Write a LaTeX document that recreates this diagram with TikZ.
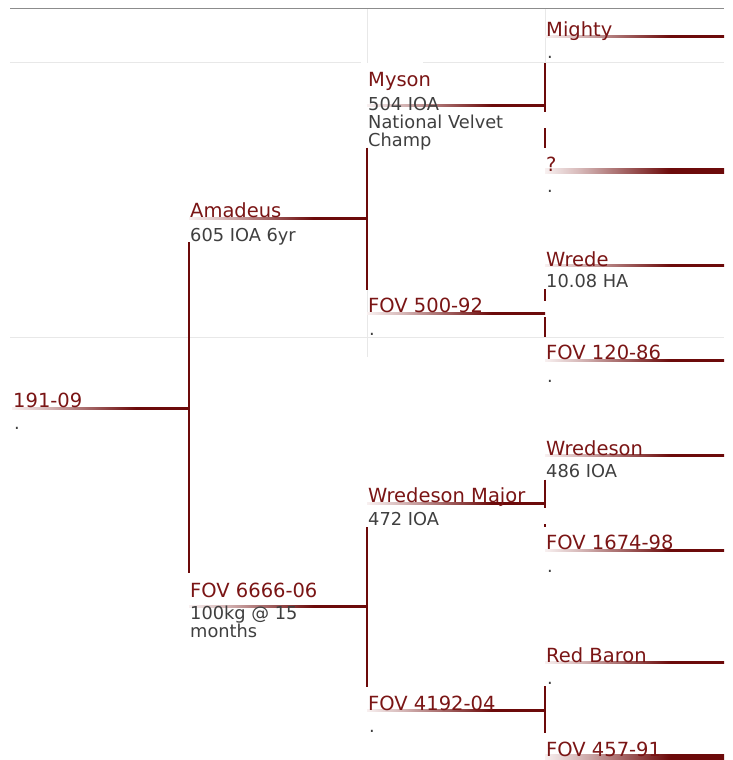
\documentclass[tikz,border=0pt]{standalone}
\usepackage{fontspec}
\setmainfont{DejaVu Sans}
\usetikzlibrary{calc}

\definecolor{namered}{HTML}{7A1515}
\definecolor{linered}{HTML}{6C0A0A}
\definecolor{linepale}{HTML}{F8F0F0}
\definecolor{notegray}{HTML}{3F3F3F}
\definecolor{cellgray}{HTML}{E8E8E8}
\definecolor{rulegray}{HTML}{8C8C8C}

% the path box is mapped onto 25bp--75bp
\pgfdeclarehorizontalshading{bloodfade}{100bp}{%
  color(0bp)=(linepale); color(25bp)=(linepale);
  color(35bp)=(linepale!75!linered);
  color(60bp)=(linered); color(100bp)=(linered)}

% gradient line from a sire/dam to its bracket
\newcommand{\bloodline}[3][2]{%
  \shade[shading=bloodfade]
    ($(#2)+(0,#1/2)$) rectangle ($(#3)-(0,#1/2)$);}

\tikzset{
  pname/.style={anchor=base west, inner sep=0pt, text=namered,
    font=\fontsize{19.5}{22}\selectfont},
  pnote/.style={anchor=base west, inner sep=0pt, text=notegray,
    font=\fontsize{17.8}{18}\selectfont},
  bracket/.style={draw=linered, line width=2pt},
  cellrule/.style={draw=cellgray, line width=1pt},
  toprule/.style={draw=rulegray, line width=1pt}
}

\begin{document}
\begin{tikzpicture}[x=1pt,y=-1pt]
  \useasboundingbox (0,0) rectangle (733,760);

  % table rules
  \draw[toprule] (10,9) -- (724,9);
  \draw[cellrule] (10,63) -- (361,63) (423,63) -- (724,63);
  \draw[cellrule] (10,337) -- (724,337);
  \draw[cellrule] (367,9) -- (367,63) (545,9) -- (545,63) (367,290) -- (367,357);

  % line ends
  \foreach \id/\xa/\xb/\y in {n191/12/189/408, amadeus/189/367/218.3,
      fov6666/189/367/606, myson/367/545/105.5, fov500/367/545/313,
      wmajor/367/545/503, fov4192/367/545/710, mighty/545/724/36.5,
      unknown/545/724/171, wrede/545/724/265.3, fov120/545/724/360,
      wredeson/545/724/455, fov1674/545/724/550, redbaron/545/724/662.5,
      fov457/545/724/757}
    \path (\xa,\y) coordinate (\id-s) (\xb,\y) coordinate (\id-e);

  \foreach \id/\w in {n191/2, amadeus/2, fov6666/2, myson/2,
      fov500/2, wmajor/2, fov4192/2, mighty/2, unknown/5,
      wrede/2, fov120/2, wredeson/2, fov1674/2, redbaron/2,
      fov457/4.6}
    {\bloodline[\w]{\id-s}{\id-e}}

  % brackets
  \draw[bracket] ([yshift=-23.7pt]amadeus-s) -- ([yshift=33.5pt]fov6666-s);
  \draw[bracket] ([yshift=-42pt]myson-s) -- ([yshift=23pt]fov500-s);
  \draw[bracket] ([yshift=-24pt]wmajor-s) -- ([yshift=23.5pt]fov4192-s);
  \draw[bracket] ([yshift=-26.5pt]mighty-s) -- ([yshift=-6pt]myson-e);
  \draw[bracket] ([yshift=-22.5pt]myson-e) -- ([yshift=23.5pt]unknown-s);
  \draw[bracket] ([yshift=-23.7pt]wrede-s) -- ([yshift=12pt]fov500-e);
  \draw[bracket] ([yshift=-4pt]fov500-e) -- ([yshift=23pt]fov120-s);
  \draw[bracket] ([yshift=-24.5pt]wredeson-s) -- ([yshift=-4.5pt]wmajor-e);
  \draw[bracket] ([yshift=-21pt]wmajor-e) -- ([yshift=23pt]fov1674-s);
  \draw[bracket] ([yshift=-23.5pt]redbaron-s) -- ([yshift=24pt]fov457-s);

  % animals
  \node[pname] (n191) at (13,407.5) {191-09};
  \node[pnote] (n191-n) at (14,429) {.};

  \node[pname] (amadeus) at (190,217) {Amadeus};
  \node[pnote] (amadeus-n) at (190,241) {605 IOA 6yr};
  \node[pname] (fov6666) at (190,597) {FOV 6666-06};
  \node[pnote] (fov6666-n1) at (190,619) {100kg @ 15};
  \node[pnote] (fov6666-n2) at (190,637) {months};

  \node[pname] (myson) at (368,86.7) {Myson};
  \node[pnote] (myson-n1) at (368,110) {504 IOA};
  \node[pnote] (myson-n2) at (368,128) {National Velvet};
  \node[pnote] (myson-n3) at (368,146) {Champ};
  \node[pname] (fov500) at (368,312.7) {FOV 500-92};
  \node[pnote] (fov500-n) at (369,335.6) {.};
  \node[pname] (wmajor) at (368,502.7) {Wredeson Major};
  \node[pnote] (wmajor-n) at (368,525) {472 IOA};
  \node[pname] (fov4192) at (368,710) {FOV 4192-04};
  \node[pnote] (fov4192-n) at (369,732.7) {.};

  \node[pname] (mighty) at (546,37) {Mighty};
  \node[pnote] (mighty-n) at (547,58.7) {.};
  \node[pname] (unknown) at (546,171) {?};
  \node[pnote] (unknown-n) at (547,192.3) {.};
  \node[pname] (wrede) at (546,266) {Wrede};
  \node[pnote] (wrede-n) at (546,287.7) {10.08 HA};
  \node[pname] (fov120) at (546,359.3) {FOV 120-86};
  \node[pnote] (fov120-n) at (547,382.7) {.};
  \node[pname] (wredeson) at (546,455) {Wredeson};
  \node[pnote] (wredeson-n) at (546,477.3) {486 IOA};
  \node[pname] (fov1674) at (546,549.3) {FOV 1674-98};
  \node[pnote] (fov1674-n) at (547,572.7) {.};
  \node[pname] (redbaron) at (546,662.3) {Red Baron};
  \node[pnote] (redbaron-n) at (547,684.3) {.};
  \node[pname] (fov457) at (546,756.7) {FOV 457-91};
\end{tikzpicture}
\end{document}
